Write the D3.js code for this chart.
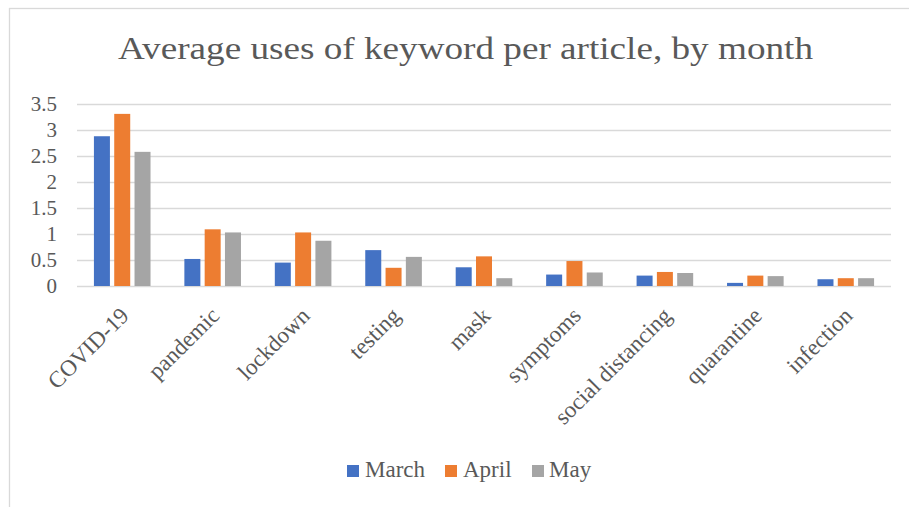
<!DOCTYPE html>
<html>
<head>
<meta charset="utf-8">
<script src="https://cdn.jsdelivr.net/npm/d3@7"></script>
<style>
  html, body { margin: 0; padding: 0; background: #fff; }
  svg { display: block; }
  text { font-family: "Liberation Serif", "Times New Roman", serif; fill: #595959; }
</style>
</head>
<body>
<svg id="chart" width="909" height="507"></svg>
<script>
// Average keyword uses per article, by month
const keywords = ["COVID-19", "pandemic", "lockdown", "testing", "mask", "symptoms", "social distancing", "quarantine", "infection"];
const months = ["March", "April", "May"];
const march = [2.88, 0.52, 0.45, 0.69, 0.36, 0.22, 0.20, 0.06, 0.13];
const april = [3.31, 1.09, 1.03, 0.35, 0.57, 0.48, 0.27, 0.20, 0.15];
const may   = [2.58, 1.03, 0.87, 0.56, 0.15, 0.26, 0.25, 0.19, 0.15];
const yTicks = [0, 0.5, 1, 1.5, 2, 2.5, 3, 3.5];
const colors = ["#4472C4", "#ED7D31", "#A5A5A5"];

const seriesValues = [march, april, may];
const rows = keywords.map((k, i) => ({
  keyword: k,
  values: months.map((m, j) => ({ month: m, value: seriesValues[j][i] }))
}));

const svg = d3.select("#chart");
const serif = "'Liberation Serif', 'Times New Roman', serif";

// chart area frame
svg.append("rect")
  .attr("x", 9.5).attr("y", 8.5)
  .attr("width", 920).attr("height", 520)
  .attr("fill", "none").attr("stroke", "#d9d9d9").attr("stroke-width", 1.3);

const plot = { left: 77, right: 891, top: 104, bottom: 286 };

const x0 = d3.scaleBand().domain(keywords).range([plot.left, plot.right]);
const x1 = d3.scaleBand().domain(months).range([-28.3, 28.3]).paddingInner(0.212);
const y = d3.scaleLinear().domain([0, 3.5]).range([plot.bottom, plot.top]);
const color = d3.scaleOrdinal().domain(months).range(colors);

// title
svg.append("text")
  .attr("x", 118).attr("y", 58.5)
  .attr("textLength", 695)
  .attr("lengthAdjust", "spacingAndGlyphs")
  .style("font-size", "31px")
  .text("Average uses of keyword per article, by month");

// gridlines + y labels
const yAxis = d3.axisLeft(y)
  .tickValues(yTicks)
  .tickSize(-(plot.right - plot.left))
  .tickPadding(20)
  .tickFormat(d => String(d));
const gy = svg.append("g")
  .attr("transform", `translate(${plot.left},0)`)
  .call(yAxis);
gy.select(".domain").remove();
gy.selectAll(".tick line").attr("stroke", "#d9d9d9").attr("stroke-width", 1.3);
gy.selectAll(".tick text")
  .attr("fill", "#595959")
  .style("font-family", serif)
  .style("font-size", "21px");

// bars
const groups = svg.append("g").selectAll("g")
  .data(rows)
  .join("g")
  .attr("transform", d => `translate(${x0(d.keyword) + x0.bandwidth() / 2},0)`);

groups.selectAll("rect")
  .data(d => d.values)
  .join("rect")
  .attr("x", d => x1(d.month))
  .attr("width", x1.bandwidth())
  .attr("y", d => y(d.value))
  .attr("height", d => y(0) - y(d.value))
  .attr("fill", d => color(d.month));

// category labels, rotated
const xAxis = d3.axisBottom(x0).tickSize(0).tickPadding(0);
const gx = svg.append("g")
  .attr("transform", `translate(0,${plot.bottom})`)
  .call(xAxis);
gx.select(".domain").remove();
gx.selectAll(".tick text")
  .attr("fill", "#595959")
  .style("font-family", serif)
  .style("font-size", "23px")
  .attr("text-anchor", "end")
  .attr("dy", 0)
  .attr("y", 0)
  .attr("transform", "translate(8,31) rotate(-45)");

// legend
const legendItems = [
  { month: "March", sx: 347, tx: 365 },
  { month: "April", sx: 445, tx: 463 },
  { month: "May", sx: 532, tx: 549 }
];
const legend = svg.append("g");
legend.selectAll("rect")
  .data(legendItems)
  .join("rect")
  .attr("x", d => d.sx).attr("y", 465)
  .attr("width", 12).attr("height", 12)
  .attr("fill", d => color(d.month));
legend.selectAll("text")
  .data(legendItems)
  .join("text")
  .attr("x", d => d.tx).attr("y", 477)
  .style("font-size", "23px")
  .text(d => d.month);
</script>
</body>
</html>
